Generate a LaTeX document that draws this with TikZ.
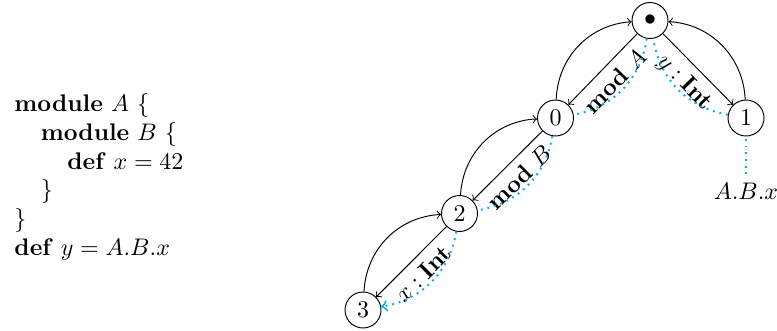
\documentclass[tikz,border=0pt]{standalone}
\usepackage{tikz}
\definecolor{resc}{RGB}{0,174,239}
\begin{document}
\begin{tikzpicture}[x=0.41667pt, y=0.41667pt,
  st/.style={circle, draw, minimum size=15pt, inner sep=0pt},
  lbl/.style={midway, sloped, below},
  res/.style={draw=resc, thick, dotted},
  >=to]
\useasboundingbox (0,0) rectangle (777,-331);
\node[anchor=base west, inner sep=0pt] (code) at (14,-111.5) {\begin{tabular}[t]{@{}l@{}}
\textbf{module} $A$ $\{$\\
\hspace{11pt}\textbf{module} $B$ $\{$\\
\hspace{22pt}\textbf{def} $x=42$\\
\hspace{11pt}$\}$\\
$\}$\\
\textbf{def} $y=A.B.x$
\end{tabular}};
\node[st] (r) at (650,-20.5) {$\bullet$};
\node[st] (n0) at (555.5,-118) {$0$};
\node[st] (n1) at (746,-118) {$1$};
\node[st] (n2) at (459.5,-213.5) {$2$};
\node[st] (n3) at (363,-310) {$3$};
\node (abx) at (746,-191) {$A.B.x$};
\draw[->] (r) -- (n0) node[lbl] {\textbf{mod} $A$};
\draw[->] (n0) to[bend left=42] (r);
\draw[->] (r) -- (n1) node[lbl] {$y:\textbf{Int}$};
\draw[->] (n1) to[bend right=42] (r);
\draw[->] (n0) -- (n2) node[lbl] {\textbf{mod} $B$};
\draw[->] (n2) to[bend left=42] (n0);
\draw[->] (n2) -- (n3) node[lbl] {$x:\textbf{Int}$};
\draw[->] (n3) to[bend left=42] (n2);
\draw[res] (abx) -- (n1);
\draw[res] (n1.170) to[bend left=35] (r.-80);
\draw[res] (r.-100) to[bend left=35] (n0.10);
\draw[res] (n0.-100) to[bend left=35] (n2.10);
\draw[res,->] (n2.-100) to[bend left=35] (n3.10);
\end{tikzpicture}
\end{document}
